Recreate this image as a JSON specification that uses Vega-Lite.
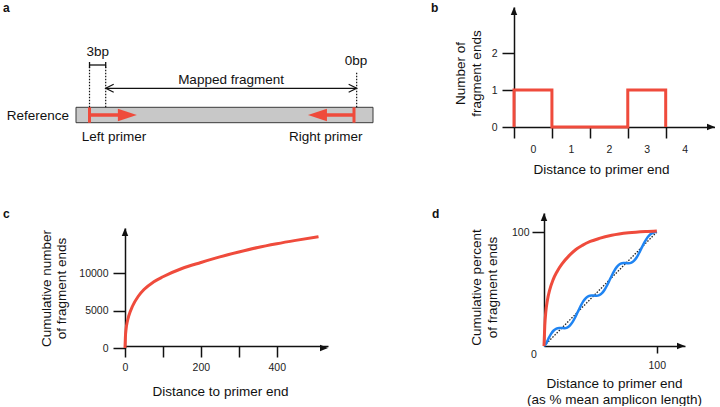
{
  "$schema": "https://vega.github.io/schema/vega-lite/v6.json",
  "background": "white",
  "autosize": {"type": "pad"},
  "padding": {"left": 3, "top": 2, "right": 0, "bottom": 0},
  "columns": 2,
  "spacing": {"row": 73, "column": 186},
  "align": "all",
  "bounds": "flush",
  "concat": [
    {
      "width": 173,
      "height": 133,
      "title": {"text": "a", "dx": -122, "offset": -8},
      "encoding": {
        "x": {"field": "pos", "type": "quantitative", "scale": {"domain": [0, 100], "range": [-49, 248], "nice": false}, "axis": null},
        "y": {"field": "level", "type": "quantitative", "scale": {"domain": [0, 13.5], "range": [135, 0], "nice": false}, "axis": null}
      },
      "layer": [
        {
          "data": {"values": [{"pos": 0, "pos2": 100, "level": 1.93, "level2": 3.47}]},
          "mark": {"type": "rect", "fill": "#c8c8c8", "stroke": "#3a3a3a", "strokeWidth": 1},
          "encoding": {"x2": {"field": "pos2"}, "y2": {"field": "level2"}}
        },
        {
          "data": {"values": [{"pos": 4.55, "level": 1.93, "level2": 3.47}, {"pos": 93.6, "level": 1.93, "level2": 3.47}]},
          "mark": {"type": "rule", "color": "#ef4b3c", "strokeWidth": 3},
          "encoding": {"y2": {"field": "level2"}}
        },
        {
          "data": {"values": [{"pos": 4.55, "pos2": 15, "level": 2.7}, {"pos": 93.6, "pos2": 83.6, "level": 2.7}]},
          "mark": {"type": "rule", "color": "#ef4b3c", "strokeWidth": 3.5},
          "encoding": {"x2": {"field": "pos2"}}
        },
        {
          "data": {"values": [{"pos": 20.5, "level": 2.7}]},
          "mark": {"type": "point", "shape": "M0,0L-2,-0.66L-2,0.66Z", "size": 361, "filled": true, "color": "#ef4b3c", "opacity": 1}
        },
        {
          "data": {"values": [{"pos": 78.1, "level": 2.7}]},
          "mark": {"type": "point", "shape": "M0,0L2,-0.66L2,0.66Z", "size": 361, "filled": true, "color": "#ef4b3c", "opacity": 1}
        },
        {
          "data": {"values": [{"pos": 4.55, "level": 3.47, "level2": 7.7}, {"pos": 10, "level": 3.47, "level2": 7.7}, {"pos": 94.5, "level": 3.47, "level2": 7.03}]},
          "mark": {"type": "rule", "color": "#111", "strokeWidth": 1.2, "strokeDash": [1.5, 1.5]},
          "encoding": {"y2": {"field": "level2"}}
        },
        {
          "data": {"values": [
            {"pos": 4.55, "pos2": 10, "level": 7.7, "level2": 7.7},
            {"pos": 4.55, "pos2": 4.55, "level": 7.4, "level2": 8.0},
            {"pos": 10, "pos2": 10, "level": 7.4, "level2": 8.0},
            {"pos": 10, "pos2": 94.5, "level": 5.37, "level2": 5.37}
          ]},
          "mark": {"type": "rule", "color": "#111", "strokeWidth": 1.3},
          "encoding": {"x2": {"field": "pos2"}, "y2": {"field": "level2"}}
        },
        {
          "data": {"values": [{"pos": 10, "level": 5.37}]},
          "mark": {"type": "point", "shape": "M2,-1L0,0L2,1", "size": 64, "filled": false, "stroke": "#111", "strokeWidth": 1.2, "opacity": 1}
        },
        {
          "data": {"values": [{"pos": 94.5, "level": 5.37}]},
          "mark": {"type": "point", "shape": "M-2,-1L0,0L-2,1", "size": 64, "filled": false, "stroke": "#111", "strokeWidth": 1.2, "opacity": 1}
        },
        {
          "data": {"values": [
            {"pos": 7.3, "level": 8.96, "label": "3bp"},
            {"pos": 94.3, "level": 8.1, "label": "0bp"},
            {"pos": 52.2, "level": 6.18, "label": "Mapped fragment"}
          ]},
          "mark": {"type": "text", "align": "center", "baseline": "middle", "fontSize": 13.5, "color": "#111"},
          "encoding": {"text": {"field": "label"}}
        },
        {
          "data": {"values": [{"pos": 1.9, "level": 0.53, "label": "Left primer"}]},
          "mark": {"type": "text", "align": "left", "baseline": "middle", "fontSize": 13.5, "color": "#111"},
          "encoding": {"text": {"field": "label"}}
        },
        {
          "data": {"values": [{"pos": 96.5, "level": 0.53, "label": "Right primer"}, {"pos": -2.36, "level": 2.63, "label": "Reference"}]},
          "mark": {"type": "text", "align": "right", "baseline": "middle", "fontSize": 13.5, "color": "#111"},
          "encoding": {"text": {"field": "label"}}
        }
      ]
    },
    {
      "width": 201,
      "height": 120,
      "title": {"text": "b", "dx": -83, "offset": -8},
      "encoding": {
        "x": {"field": "distance", "type": "quantitative", "scale": {"domain": [0, 5.3], "nice": false},
          "axis": {"values": [0, 1, 2, 3, 4], "title": "Distance to primer end", "labelOffset": 19, "tickSize": 11, "labelPadding": 6, "titlePadding": 8, "titleX": 87}},
        "y": {"field": "ends", "type": "quantitative", "scale": {"domain": [0, 3.25], "nice": false},
          "axis": {"values": [0, 1, 2], "title": ["Number of", "fragment ends"], "tickSize": 12, "labelPadding": 5, "titlePadding": 8, "titleLineHeight": 16, "titleY": 66}}
      },
      "layer": [
        {
          "data": {"values": [
            {"step": 1, "distance": 0, "ends": 0},
            {"step": 2, "distance": 0, "ends": 1},
            {"step": 3, "distance": 1, "ends": 1},
            {"step": 4, "distance": 1, "ends": 0},
            {"step": 5, "distance": 3, "ends": 0},
            {"step": 6, "distance": 3, "ends": 1},
            {"step": 7, "distance": 4, "ends": 1},
            {"step": 8, "distance": 4, "ends": 0}
          ]},
          "mark": {"type": "line", "color": "#ef4b3c", "strokeWidth": 3, "strokeJoin": "miter"},
          "encoding": {"order": {"field": "step", "type": "quantitative"}}
        },
        {
          "data": {"values": [{"distance": 0, "ends": 3.25}]},
          "mark": {"type": "point", "shape": "M0,0L-0.81,2L0.81,2Z", "size": 64, "filled": true, "color": "#111", "opacity": 1}
        },
        {
          "data": {"values": [{"distance": 5.3, "ends": 0}]},
          "mark": {"type": "point", "shape": "M0,0L-2,-0.81L-2,0.81Z", "size": 64, "filled": true, "color": "#111", "opacity": 1}
        }
      ]
    },
    {
      "width": 203,
      "height": 133,
      "title": {"text": "c", "dx": -122, "offset": -8},
      "encoding": {
        "x": {"field": "distance", "type": "quantitative", "scale": {"domain": [0, 535], "nice": false},
          "axis": {"values": [0, 100, 200, 300, 400], "labelExpr": "datum.value % 200 === 0 ? datum.label : ''", "title": "Distance to primer end", "tickSize": 11, "labelPadding": 5, "titlePadding": 12, "titleX": 95}},
        "y": {"field": "ends", "type": "quantitative", "scale": {"domain": [0, 16000], "range": [135, 15], "nice": false},
          "axis": {"values": [0, 5000, 10000], "format": "d", "title": ["Cumulative number", "of fragment ends"], "tickSize": 12, "labelPadding": 5, "titlePadding": 10, "titleLineHeight": 15, "titleY": 75}}
      },
      "layer": [
        {
          "data": {"values": [
            {"distance": 0, "ends": 0},
            {"distance": 1, "ends": 1400},
            {"distance": 3, "ends": 2600},
            {"distance": 6, "ends": 3500},
            {"distance": 10, "ends": 4300},
            {"distance": 20, "ends": 5600},
            {"distance": 35, "ends": 6900},
            {"distance": 50, "ends": 7800},
            {"distance": 75, "ends": 8800},
            {"distance": 100, "ends": 9500},
            {"distance": 150, "ends": 10600},
            {"distance": 200, "ends": 11400},
            {"distance": 250, "ends": 12150},
            {"distance": 300, "ends": 12800},
            {"distance": 350, "ends": 13400},
            {"distance": 400, "ends": 13900},
            {"distance": 450, "ends": 14350},
            {"distance": 510, "ends": 14850}
          ]},
          "mark": {"type": "line", "color": "#ef4b3c", "strokeWidth": 3, "interpolate": "monotone"}
        },
        {
          "data": {"values": [{"distance": 0, "ends": 16000}]},
          "mark": {"type": "point", "shape": "M0,0L-0.81,2L0.81,2Z", "size": 64, "filled": true, "color": "#111", "opacity": 1}
        },
        {
          "data": {"values": [{"distance": 535, "ends": 0}]},
          "mark": {"type": "point", "shape": "M0,0L-2,-0.81L-2,0.81Z", "size": 64, "filled": true, "color": "#111", "opacity": 1}
        }
      ]
    },
    {
      "width": 171,
      "height": 133,
      "title": {"text": "d", "dx": -82, "offset": -8},
      "encoding": {
        "x": {"field": "pct", "type": "quantitative", "scale": {"domain": [0, 125], "range": [30, 171], "nice": false},
          "axis": {"values": [100], "title": ["Distance to primer end", "(as % mean amplicon length)"], "tickSize": 7, "labelPadding": 7, "titlePadding": 6, "titleLineHeight": 16, "titleX": 100}},
        "y": {"field": "cum", "type": "quantitative", "scale": {"domain": [0, 116.7], "nice": false},
          "axis": {"values": [100], "offset": -30, "title": ["Cumulative percent", "of fragment ends"], "tickSize": 12, "labelPadding": 3, "titlePadding": 12, "titleLineHeight": 16, "titleY": 74}}
      },
      "layer": [
        {
          "data": {"values": [{"pct": 0, "cum": 0}, {"pct": 100, "cum": 100}]},
          "mark": {"type": "line", "color": "#222", "strokeWidth": 1.3, "strokeDash": [1.5, 1.5]}
        },
        {
          "data": {"values": [
            {"pct": 0, "cum": 0}, {"pct": 1.5, "cum": 1.5}, {"pct": 3.9, "cum": 6.4}, {"pct": 6.25, "cum": 10.6},
            {"pct": 8.6, "cum": 13.6}, {"pct": 11, "cum": 15.3}, {"pct": 13.4, "cum": 15.9}, {"pct": 15.75, "cum": 15.75},
            {"pct": 18.1, "cum": 15.6}, {"pct": 20.5, "cum": 16.2}, {"pct": 22.9, "cum": 17.9}, {"pct": 25.25, "cum": 20.9},
            {"pct": 27.6, "cum": 25.1}, {"pct": 30, "cum": 30}, {"pct": 32.4, "cum": 34.9}, {"pct": 34.75, "cum": 39.1},
            {"pct": 37.1, "cum": 42.1}, {"pct": 39.5, "cum": 43.8}, {"pct": 41.9, "cum": 44.4}, {"pct": 44.25, "cum": 44.25},
            {"pct": 46.6, "cum": 44.1}, {"pct": 49, "cum": 44.7}, {"pct": 51.4, "cum": 46.4}, {"pct": 53.75, "cum": 49.4},
            {"pct": 56.1, "cum": 53.6}, {"pct": 58.5, "cum": 58.5}, {"pct": 60.9, "cum": 63.4}, {"pct": 63.25, "cum": 67.6},
            {"pct": 65.6, "cum": 70.6}, {"pct": 68, "cum": 72.3}, {"pct": 70.4, "cum": 72.9}, {"pct": 72.75, "cum": 72.75},
            {"pct": 75.1, "cum": 72.6}, {"pct": 77.5, "cum": 73.2}, {"pct": 79.9, "cum": 74.9}, {"pct": 82.25, "cum": 77.9},
            {"pct": 84.6, "cum": 82.1}, {"pct": 87, "cum": 87}, {"pct": 89.4, "cum": 91.5}, {"pct": 91.75, "cum": 95.3},
            {"pct": 94.1, "cum": 97.9}, {"pct": 96.5, "cum": 99.3}, {"pct": 98.5, "cum": 99.9}, {"pct": 100, "cum": 100.3}
          ]},
          "mark": {"type": "line", "color": "#1f84f2", "strokeWidth": 2.5, "interpolate": "monotone"}
        },
        {
          "data": {"values": [
            {"pct": 0, "cum": 0}, {"pct": 0.7, "cum": 18}, {"pct": 1.6, "cum": 30}, {"pct": 3, "cum": 40},
            {"pct": 5, "cum": 49}, {"pct": 8, "cum": 58}, {"pct": 11.4, "cum": 65}, {"pct": 16, "cum": 72},
            {"pct": 22.5, "cum": 79.5}, {"pct": 28, "cum": 84.5}, {"pct": 34, "cum": 88.3}, {"pct": 41, "cum": 91.7},
            {"pct": 49, "cum": 94.4}, {"pct": 60, "cum": 97.1}, {"pct": 75, "cum": 99.3}, {"pct": 90, "cum": 100.5},
            {"pct": 100, "cum": 101}
          ]},
          "mark": {"type": "line", "color": "#ef4b3c", "strokeWidth": 3, "interpolate": "monotone"}
        },
        {
          "data": {"values": [{"pct": 0, "cum": 116.7}]},
          "mark": {"type": "point", "shape": "M0,0L-0.81,2L0.81,2Z", "size": 64, "filled": true, "color": "#111", "opacity": 1}
        },
        {
          "data": {"values": [{"pct": 125, "cum": 0}]},
          "mark": {"type": "point", "shape": "M0,0L-2,-0.81L-2,0.81Z", "size": 64, "filled": true, "color": "#111", "opacity": 1}
        },
        {
          "data": {"values": [{"pct": 0, "cum": 0, "label": "0"}]},
          "mark": {"type": "text", "dx": -10, "dy": 8.75, "fontSize": 10.5, "align": "center", "baseline": "middle", "color": "#222"},
          "encoding": {"text": {"field": "label"}}
        }
      ]
    }
  ],
  "config": {
    "font": "Liberation Sans",
    "view": {"stroke": null},
    "axis": {
      "grid": false,
      "domainColor": "#111",
      "domainWidth": 1.5,
      "domainCap": "butt",
      "tickColor": "#111",
      "tickWidth": 1.5,
      "labelFontSize": 10.5,
      "labelColor": "#222",
      "labelFont": "Liberation Sans",
      "titleFont": "Liberation Sans",
      "titleFontSize": 13.5,
      "titleFontWeight": "normal",
      "titleColor": "#111",
      "labelFlush": false,
      "labelOverlap": false,
      "labelBound": false
    },
    "title": {
      "fontSize": 12,
      "fontWeight": "bold",
      "anchor": "start",
      "frame": "group",
      "baseline": "alphabetic",
      "color": "#111",
      "font": "Liberation Sans"
    }
  }
}
